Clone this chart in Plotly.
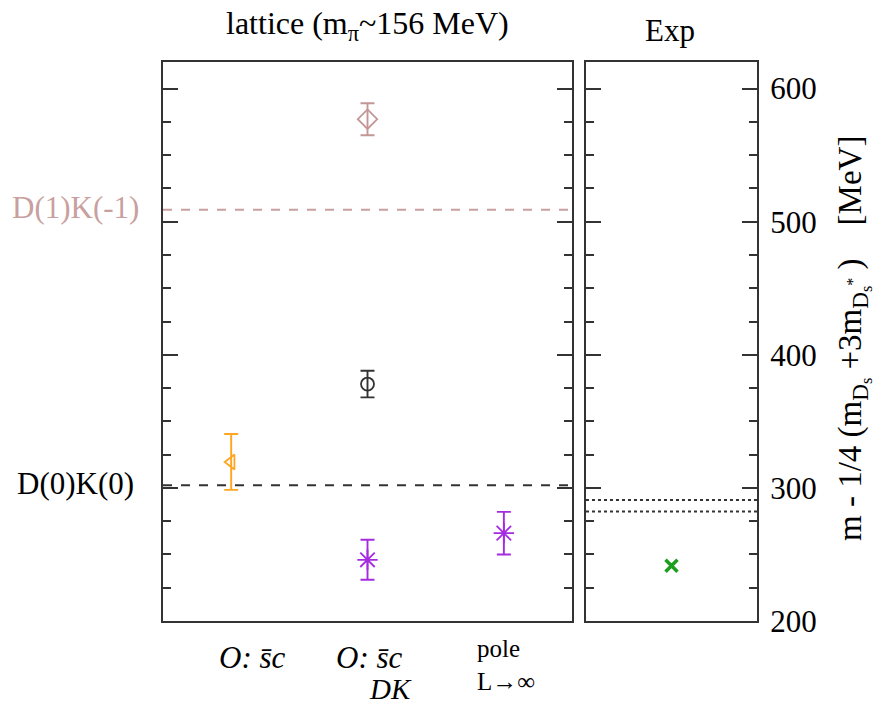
import plotly.graph_objects as go

# Lattice results (left panel): category positions, central values, errors
lat_x = [0.5, 1.5, 1.5, 1.5, 2.5]
lat_y = [319.5, 577.0, 378.0, 246.0, 266.0]
lat_err = [21.0, 12.0, 10.0, 15.0, 16.0]
lat_symbols = ["triangle-left-open", "diamond-open", "circle-open", "asterisk-open", "asterisk-open"]
lat_colors = ["#FFA520", "#C49696", "#333333", "#A52BE0", "#A52BE0"]
lat_sizes = [13, 15, 13, 17, 17]

# Experiment (right panel)
exp_x = [0.5]
exp_y = [241.5]

# Non-interacting thresholds in the lattice box
thr_labels = ["D(1)K(-1)", "D(0)K(0)"]
thr_values = [509.0, 302.0]
thr_colors = ["#C9A0A0", "#333333"]

# Physical DK thresholds (D0 K+, D+ K0)
exp_thr = [282.2, 291.0]

# Category labels below the lattice panel
cat_labels = ["<i>O: s\u0304c</i>", "<i>O: s\u0304c</i>", "pole<br>L\u2192\u221e"]

FONT = "Liberation Serif"
AX = "#333333"
TXT = "#000000"
FS = 31

fig = go.Figure()

for xv, yv, ev, sym, col, sz in zip(lat_x, lat_y, lat_err, lat_symbols, lat_colors, lat_sizes):
    fig.add_trace(go.Scatter(
        x=[xv], y=[yv], mode="markers", xaxis="x", yaxis="y",
        marker=dict(symbol=sym, size=sz, color=col, line=dict(color=col, width=1.8)),
        error_y=dict(type="data", array=[ev], color=col, thickness=1.9, width=7),
        showlegend=False, hoverinfo="y",
    ))

fig.add_trace(go.Scatter(
    x=exp_x, y=exp_y, mode="markers", xaxis="x2", yaxis="y2",
    marker=dict(symbol="x-thin-open", size=12, color="#1E9E1E",
                line=dict(color="#1E9E1E", width=3.5)),
    showlegend=False, hoverinfo="y",
))

# Threshold lines
for lab, val, col in zip(thr_labels, thr_values, thr_colors):
    fig.add_shape(type="line", xref="x domain", yref="y", x0=0, x1=1, y0=val, y1=val,
                  line=dict(color=col, width=1.8, dash="dash"))
    fig.add_annotation(text=lab, xref="paper", yref="y", x=-0.1465, y=val, yshift=2,
                       showarrow=False, xanchor="center", yanchor="middle",
                       font=dict(family=FONT, size=FS, color=col if col != AX else TXT))

for val in exp_thr:
    fig.add_shape(type="line", xref="x2 domain", yref="y2", x0=0, x1=1, y0=val, y1=val,
                  line=dict(color="#333333", width=2, dash="dot"))

yax = dict(range=[200, 620], ticks="inside", ticklen=15, tickwidth=1.8, tickcolor=AX,
           dtick=100, tick0=200, mirror="allticks", showline=True, linecolor=AX,
           linewidth=2.2, showgrid=False, zeroline=False,
           minor=dict(ticks="inside", ticklen=8, tickwidth=1.5, tickcolor=AX, dtick=25,
                      showgrid=False))
xax = dict(showline=True, mirror=True, linecolor=AX, linewidth=2.2, ticks="",
           showticklabels=False, showgrid=False, zeroline=False)

fig.update_layout(
    width=888, height=704,
    margin=dict(l=163, r=131, t=62, b=83),
    paper_bgcolor="white", plot_bgcolor="white",
    xaxis=dict(xax, domain=[0, 0.6886], range=[0, 3]),
    xaxis2=dict(xax, domain=[0.7121, 1], range=[0, 1]),
    yaxis=dict(yax, anchor="x", showticklabels=False),
    yaxis2=dict(yax, anchor="x2", side="right", showticklabels=True,
                ticklabelstandoff=5,
                tickfont=dict(family=FONT, size=FS, color=TXT)),
)

# Panel titles
fig.add_annotation(text="lattice (m<sub>\u03c0</sub>~156 MeV)", xref="paper", yref="paper",
                   x=0.345, y=1.066, showarrow=False, xanchor="center", yanchor="middle",
                   font=dict(family=FONT, size=32, color=TXT))
fig.add_annotation(text="Exp", xref="paper", yref="paper", x=0.8535, y=1.057,
                   showarrow=False, xanchor="center", yanchor="middle",
                   font=dict(family=FONT, size=FS, color=TXT))

# Category labels
fig.add_annotation(text=cat_labels[0], xref="x", yref="paper", x=0.653, y=-0.066,
                   showarrow=False, xanchor="center", yanchor="middle",
                   font=dict(family=FONT, size=FS, color=TXT))
fig.add_annotation(text=cat_labels[1], xref="x", yref="paper", x=1.518, y=-0.066,
                   showarrow=False, xanchor="center", yanchor="middle",
                   font=dict(family=FONT, size=FS, color=TXT))
fig.add_annotation(text="<i>DK</i>", xref="x", yref="paper", x=1.665, y=-0.1225,
                   showarrow=False, xanchor="center", yanchor="middle",
                   font=dict(family=FONT, size=29, color=TXT))
fig.add_annotation(text=cat_labels[2], xref="x", yref="paper", x=2.288, y=-0.0787,
                   showarrow=False, xanchor="left", yanchor="middle", align="left",
                   font=dict(family=FONT, size=25, color=TXT))

# Vertical axis title
fig.add_annotation(
    text="m - 1/4 (m<sub>D<sub>s</sub></sub> +3m<sub>D<sub>s</sub><sup>*</sup></sub> )    [MeV]",
    xref="paper", yref="paper", x=1.163, y=0.506, textangle=-90,
    showarrow=False, xanchor="center", yanchor="middle",
    font=dict(family=FONT, size=33, color=TXT))

fig.write_html("out.html")
